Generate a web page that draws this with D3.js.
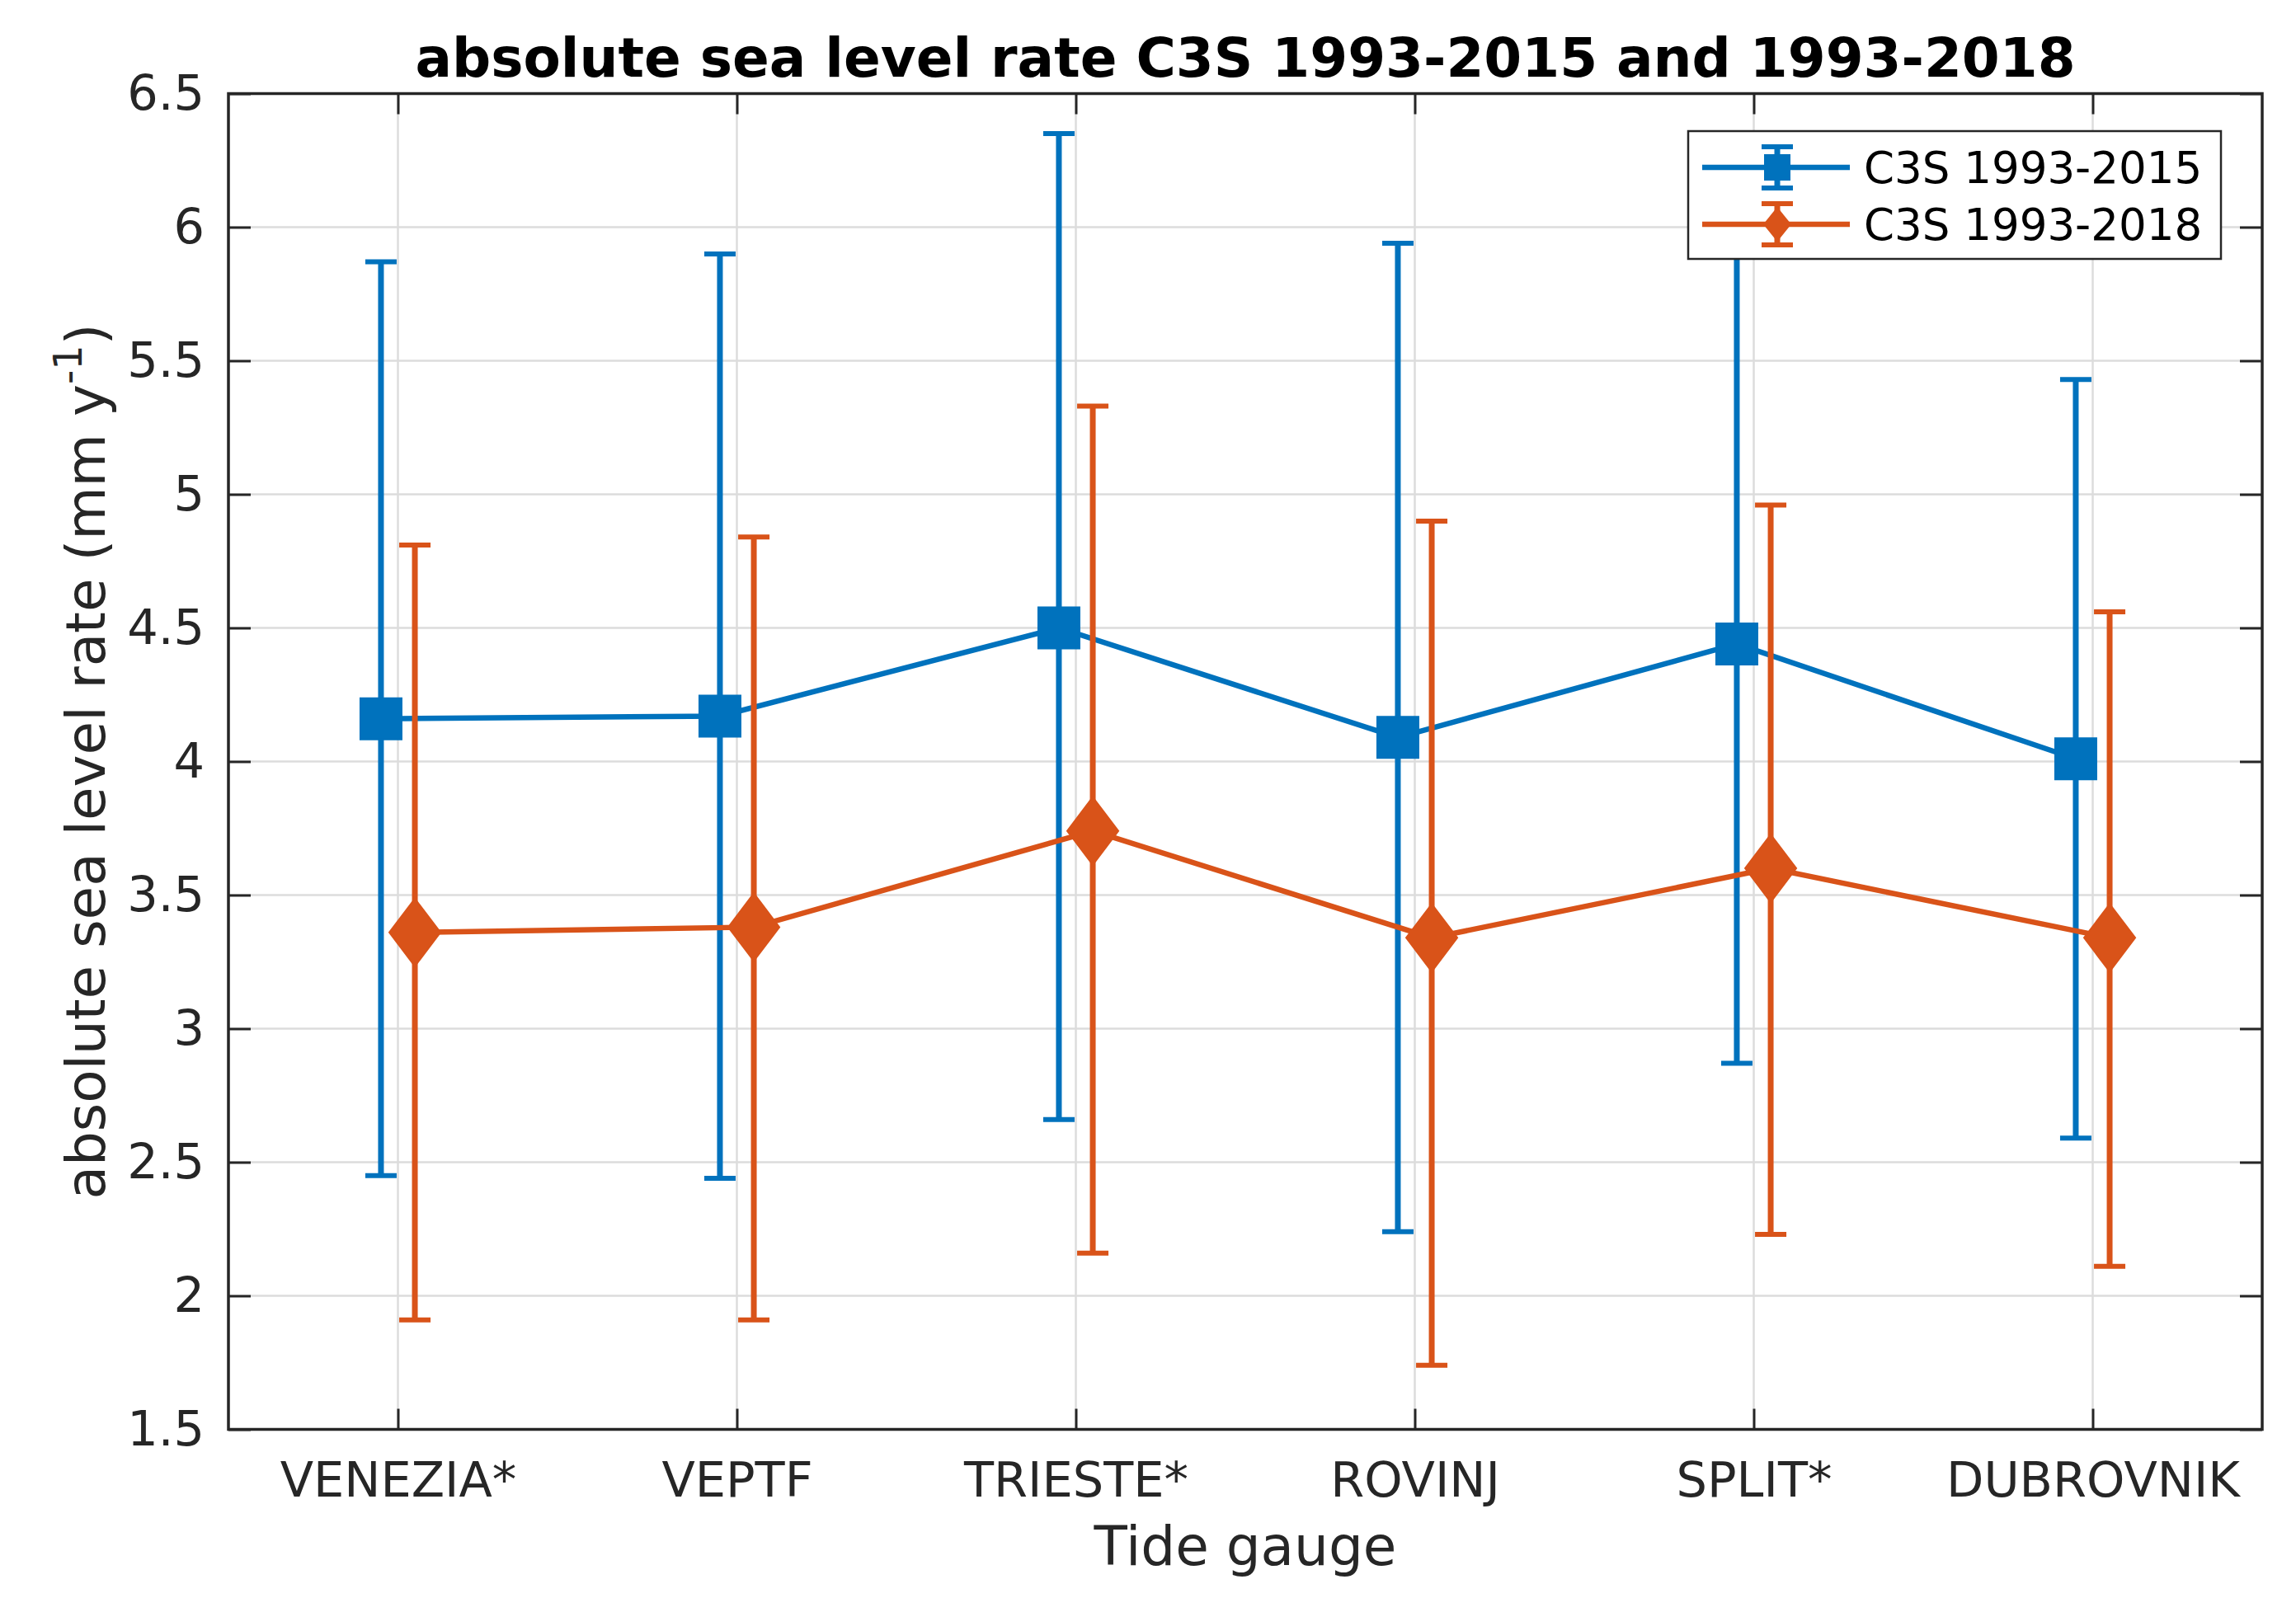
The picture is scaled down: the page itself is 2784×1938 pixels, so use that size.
<!DOCTYPE html>
<html>
<head>
<meta charset="utf-8">
<script src="https://cdn.jsdelivr.net/npm/d3@7"></script>
<style>
  body { margin: 0; background: #fff; }
  text { font-family: "DejaVu Sans", sans-serif; }
</style>
</head>
<body>
<svg id="chart"></svg>
<script>
// valores
const gauges = ["VENEZIA*", "VEPTF", "TRIESTE*", "ROVINJ", "SPLIT*", "DUBROVNIK"]
const rate2015 = [4.16, 4.17, 4.50, 4.09, 4.44, 4.01]
const low2015 = [2.45, 2.44, 2.66, 2.24, 2.87, 2.59]
const high2015 = [5.87, 5.90, 6.35, 5.94, 6.01, 5.43]
const rate2018 = [3.36, 3.38, 3.74, 3.34, 3.60, 3.34]
const low2018 = [1.91, 1.91, 2.16, 1.74, 2.23, 2.11]
const high2018 = [4.81, 4.84, 5.33, 4.90, 4.96, 4.56]
const yTicks = [1.5, 2, 2.5, 3, 3.5, 4, 4.5, 5, 5.5, 6, 6.5]
const seriesNames = ["C3S 1993-2015", "C3S 1993-2018"]

const W = 2784, H = 1938
const pL = 277, pR = 2743, pT = 113.5, pB = 1733.5
const blue = "#0072BD", orange = "#D95319"

const svg = d3.select("#chart").attr("width", W).attr("height", H)
svg.append("rect").attr("width", W).attr("height", H).attr("fill", "#fff")

const x = d3.scaleLinear().domain([0.5, gauges.length + 0.5]).range([pL, pR])
const y = d3.scaleLinear().domain([1.5, 6.5]).range([pB, pT])
const idx = gauges.map((g, i) => i + 1)

// rejilla
const grid = svg.append("g")
grid.selectAll(".gy").data(yTicks).join("line")
  .attr("x1", pL).attr("x2", pR)
  .attr("y1", d => y(d)).attr("y2", d => y(d))
  .attr("stroke", "#dcdcdc").attr("stroke-width", 2.5)
grid.selectAll(".gx").data(idx).join("line")
  .attr("x1", d => x(d)).attr("x2", d => x(d))
  .attr("y1", pT).attr("y2", pB)
  .attr("stroke", "#dcdcdc").attr("stroke-width", 2.5)

// ejes con ticks hacia adentro
function styleAxis(g) {
  g.select(".domain").remove()
  g.selectAll(".tick line").attr("stroke", "#262626").attr("stroke-width", 3)
  g.selectAll(".tick text").attr("fill", "#262626").style("font-size", "59px")
}
svg.append("g").attr("transform", `translate(${pL},0)`)
  .call(d3.axisLeft(y).tickValues(yTicks).tickFormat(d3.format("")).tickSize(-27).tickSizeOuter(0).tickPadding(29))
  .call(styleAxis)
svg.append("g").attr("transform", `translate(${pR},0)`)
  .call(d3.axisRight(y).tickValues(yTicks).tickFormat("").tickSize(-27).tickSizeOuter(0))
  .call(styleAxis)
const xAxis = svg.append("g").attr("transform", `translate(0,${pB})`)
  .call(d3.axisBottom(x).tickValues(idx).tickFormat(d => gauges[d - 1]).tickSize(-25).tickSizeOuter(0).tickPadding(0))
  .call(styleAxis)
xAxis.selectAll(".tick text").attr("dy", null).attr("y", 81)
svg.append("g").attr("transform", `translate(0,${pT})`)
  .call(d3.axisTop(x).tickValues(idx).tickFormat("").tickSize(-25).tickSizeOuter(0))
  .call(styleAxis)

svg.append("rect")
  .attr("x", pL).attr("y", pT).attr("width", pR - pL).attr("height", pB - pT)
  .attr("fill", "none").attr("stroke", "#262626").attr("stroke-width", 3.5)

// series con barras de error
function drawSeries(vals, lo, hi, color, off, shape) {
  const pts = vals.map((v, i) => ({ xi: x(i + 1 + off), v, lo: lo[i], hi: hi[i] }))
  const g = svg.append("g")
  g.append("path").datum(pts)
    .attr("d", d3.line().x(d => d.xi).y(d => y(d.v)))
    .attr("fill", "none").attr("stroke", color).attr("stroke-width", 6.5)
  g.selectAll(".eb").data(pts).join("line")
    .attr("x1", d => d.xi).attr("x2", d => d.xi)
    .attr("y1", d => y(d.lo)).attr("y2", d => y(d.hi))
    .attr("stroke", color).attr("stroke-width", 7)
  g.selectAll(".capT").data(pts).join("line")
    .attr("x1", d => d.xi - 19).attr("x2", d => d.xi + 19)
    .attr("y1", d => y(d.hi)).attr("y2", d => y(d.hi))
    .attr("stroke", color).attr("stroke-width", 6)
  g.selectAll(".capB").data(pts).join("line")
    .attr("x1", d => d.xi - 19).attr("x2", d => d.xi + 19)
    .attr("y1", d => y(d.lo)).attr("y2", d => y(d.lo))
    .attr("stroke", color).attr("stroke-width", 6)
  g.selectAll(".mk").data(pts).join("path")
    .attr("transform", d => `translate(${d.xi},${y(d.v)})`)
    .attr("d", shape)
    .attr("fill", color).attr("stroke", color).attr("stroke-width", 2)
}
const square = s => `M${-s},${-s}H${s}V${s}H${-s}Z`
const diamond = (w, h) => `M0,${-h}L${w},0L0,${h}L${-w},0Z`

drawSeries(rate2015, low2015, high2015, blue, -0.05, square(25))
drawSeries(rate2018, low2018, high2018, orange, 0.05, diamond(31, 41))

// titulo y etiquetas
svg.append("text")
  .attr("x", (pL + pR) / 2).attr("y", 93)
  .attr("text-anchor", "middle")
  .style("font-size", "66px").style("font-weight", "bold").attr("fill", "#000")
  .text("absolute sea level rate C3S 1993-2015 and 1993-2018")

svg.append("text")
  .attr("x", (pL + pR) / 2).attr("y", 1898)
  .attr("text-anchor", "middle")
  .style("font-size", "66px").attr("fill", "#262626")
  .text("Tide gauge")

const yl = svg.append("text")
  .attr("transform", `translate(127,${(pT + pB) / 2}) rotate(-90)`)
  .attr("text-anchor", "middle")
  .style("font-size", "66px").attr("fill", "#262626")
yl.append("tspan").text("absolute sea level rate (mm y")
yl.append("tspan").attr("dy", -28).style("font-size", "48px").text("-1")
yl.append("tspan").attr("dy", 28).text(")")

// leyenda
const lg = svg.append("g")
lg.append("rect")
  .attr("x", 2047).attr("y", 159).attr("width", 646).attr("height", 155)
  .attr("fill", "#fff").attr("stroke", "#262626").attr("stroke-width", 2.5)
const legendRows = [
  { name: seriesNames[0], color: blue, shape: square(16), cy: 203 },
  { name: seriesNames[1], color: orange, shape: diamond(17, 21), cy: 272 }
]
legendRows.forEach(r => {
  lg.append("line").attr("x1", 2064).attr("x2", 2243).attr("y1", r.cy).attr("y2", r.cy)
    .attr("stroke", r.color).attr("stroke-width", 6.5)
  lg.append("line").attr("x1", 2155).attr("x2", 2155).attr("y1", r.cy - 25).attr("y2", r.cy + 25)
    .attr("stroke", r.color).attr("stroke-width", 7)
  ;[-25, 25].forEach(o => lg.append("line")
    .attr("x1", 2136).attr("x2", 2174).attr("y1", r.cy + o).attr("y2", r.cy + o)
    .attr("stroke", r.color).attr("stroke-width", 6))
  lg.append("path").attr("transform", `translate(2155,${r.cy})`).attr("d", r.shape)
    .attr("fill", r.color)
  lg.append("text").attr("x", 2260).attr("y", r.cy).attr("dy", "0.36em")
    .style("font-size", "53px").attr("fill", "#000").text(r.name)
})
</script>
</body>
</html>
